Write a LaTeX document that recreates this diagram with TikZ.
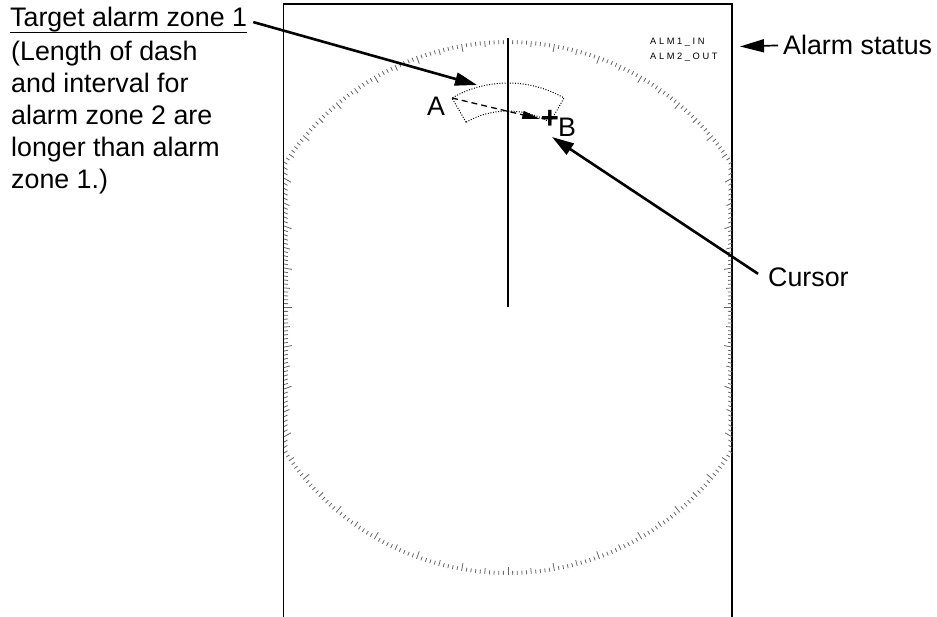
\documentclass[tikz,border=0pt]{standalone}
\usepackage{fontspec}
\setmainfont{Liberation Sans}
\newfontfamily\almfont[LetterSpace=28]{Liberation Sans}
\usetikzlibrary{arrows.meta}

\newcommand{\lblfont}{\fontsize{26.8}{32}\selectfont}

\begin{document}
\begin{tikzpicture}[x=1pt, y=-1pt, >={Triangle[length=22pt,width=13pt]},
    lbl/.style={inner sep=0pt, font=\lblfont},
    arr/.style={->, line width=2.6pt},
    tick/.style={black!60, line width=0.8pt},
    zone/.style={line width=1pt, dash pattern=on 1pt off 1.6pt}]
    \useasboundingbox (0,0) rectangle (937,617);

    \draw[line width=1.3pt] (283.5,617) -- (283.5,4) -- (732,4) -- (732,617);

    \coordinate (ctr) at (508,307.5);
    \foreach \a in {0,...,359} {
        \pgfmathsetmacro{\rad}{abs(267.5*cos(\a)) > 224 ? 224/max(abs(cos(\a)),0.5) : 267.5}
        \pgfmathsetmacro{\len}{mod(\a,10)==0 ? 8 : (mod(\a,5)==0 ? 6 : 4)}
        \draw[tick] (ctr) ++(\a:\rad) -- ++(\a+180:\len);
    }
    \draw[line width=1.3pt] (ctr) -- ++(0,-269.5);

    \coordinate (zc) at (508,195);
    \draw[zone] ([shift={(240:84)}]zc) -- ([shift={(240:112)}]zc)
        arc[start angle=240, end angle=300, radius=112]
        -- ([shift={(300:84)}]zc)
        arc[start angle=300, end angle=240, radius=84] -- cycle;
    \coordinate (ptA) at ([shift={(240:112)}]zc);

    \node[lbl] (A) at (436,106) {A};
    \node[lbl, font=\fontsize{31}{32}\selectfont\bfseries] (plus) at (550,119) {+};
    \node[lbl] (B) at (567,127) {B};
    \draw[->, line width=1.3pt, dash pattern=on 6pt off 4pt,
        >={Triangle[length=18pt,width=8pt]}] (ptA) -- ([xshift=-0.5pt]plus.west);

    \node[inner sep=0pt, anchor=west, align=left,
        font=\fontsize{9.3}{15}\selectfont\almfont] (alm) at (650,49.5) {ALM1\_IN\\ALM2\_OUT};

    \node[lbl, anchor=base west] (tgt) at (10,27) {Target alarm zone 1};
    \draw[line width=1pt] (tgt.south west) -- (tgt.south east);
    \node[lbl, anchor=north west, align=left] (note) at (11,41)
        {(Length of dash\\and interval for\\alarm zone 2 are\\longer than alarm\\zone 1.)};
    \node[lbl, anchor=base west] (status) at (783,55) {Alarm status};
    \node[lbl, anchor=base west] (cursor) at (768,287) {Cursor};

    \coordinate (zonetip) at (477,85);
    \coordinate (curtip) at (552,137);
    \coordinate (almtip) at (740,46.5);

    \draw[arr] ([xshift=6pt,yshift=-2pt]tgt.east) -- (zonetip);
    \draw[arr] ([xshift=-10pt,yshift=4pt]cursor.west) -- (curtip);
    \draw[->, line width=1.7pt, >={Triangle[length=24pt,width=13pt]}]
        ([xshift=-5pt]status.west) -- (almtip);
\end{tikzpicture}
\end{document}
